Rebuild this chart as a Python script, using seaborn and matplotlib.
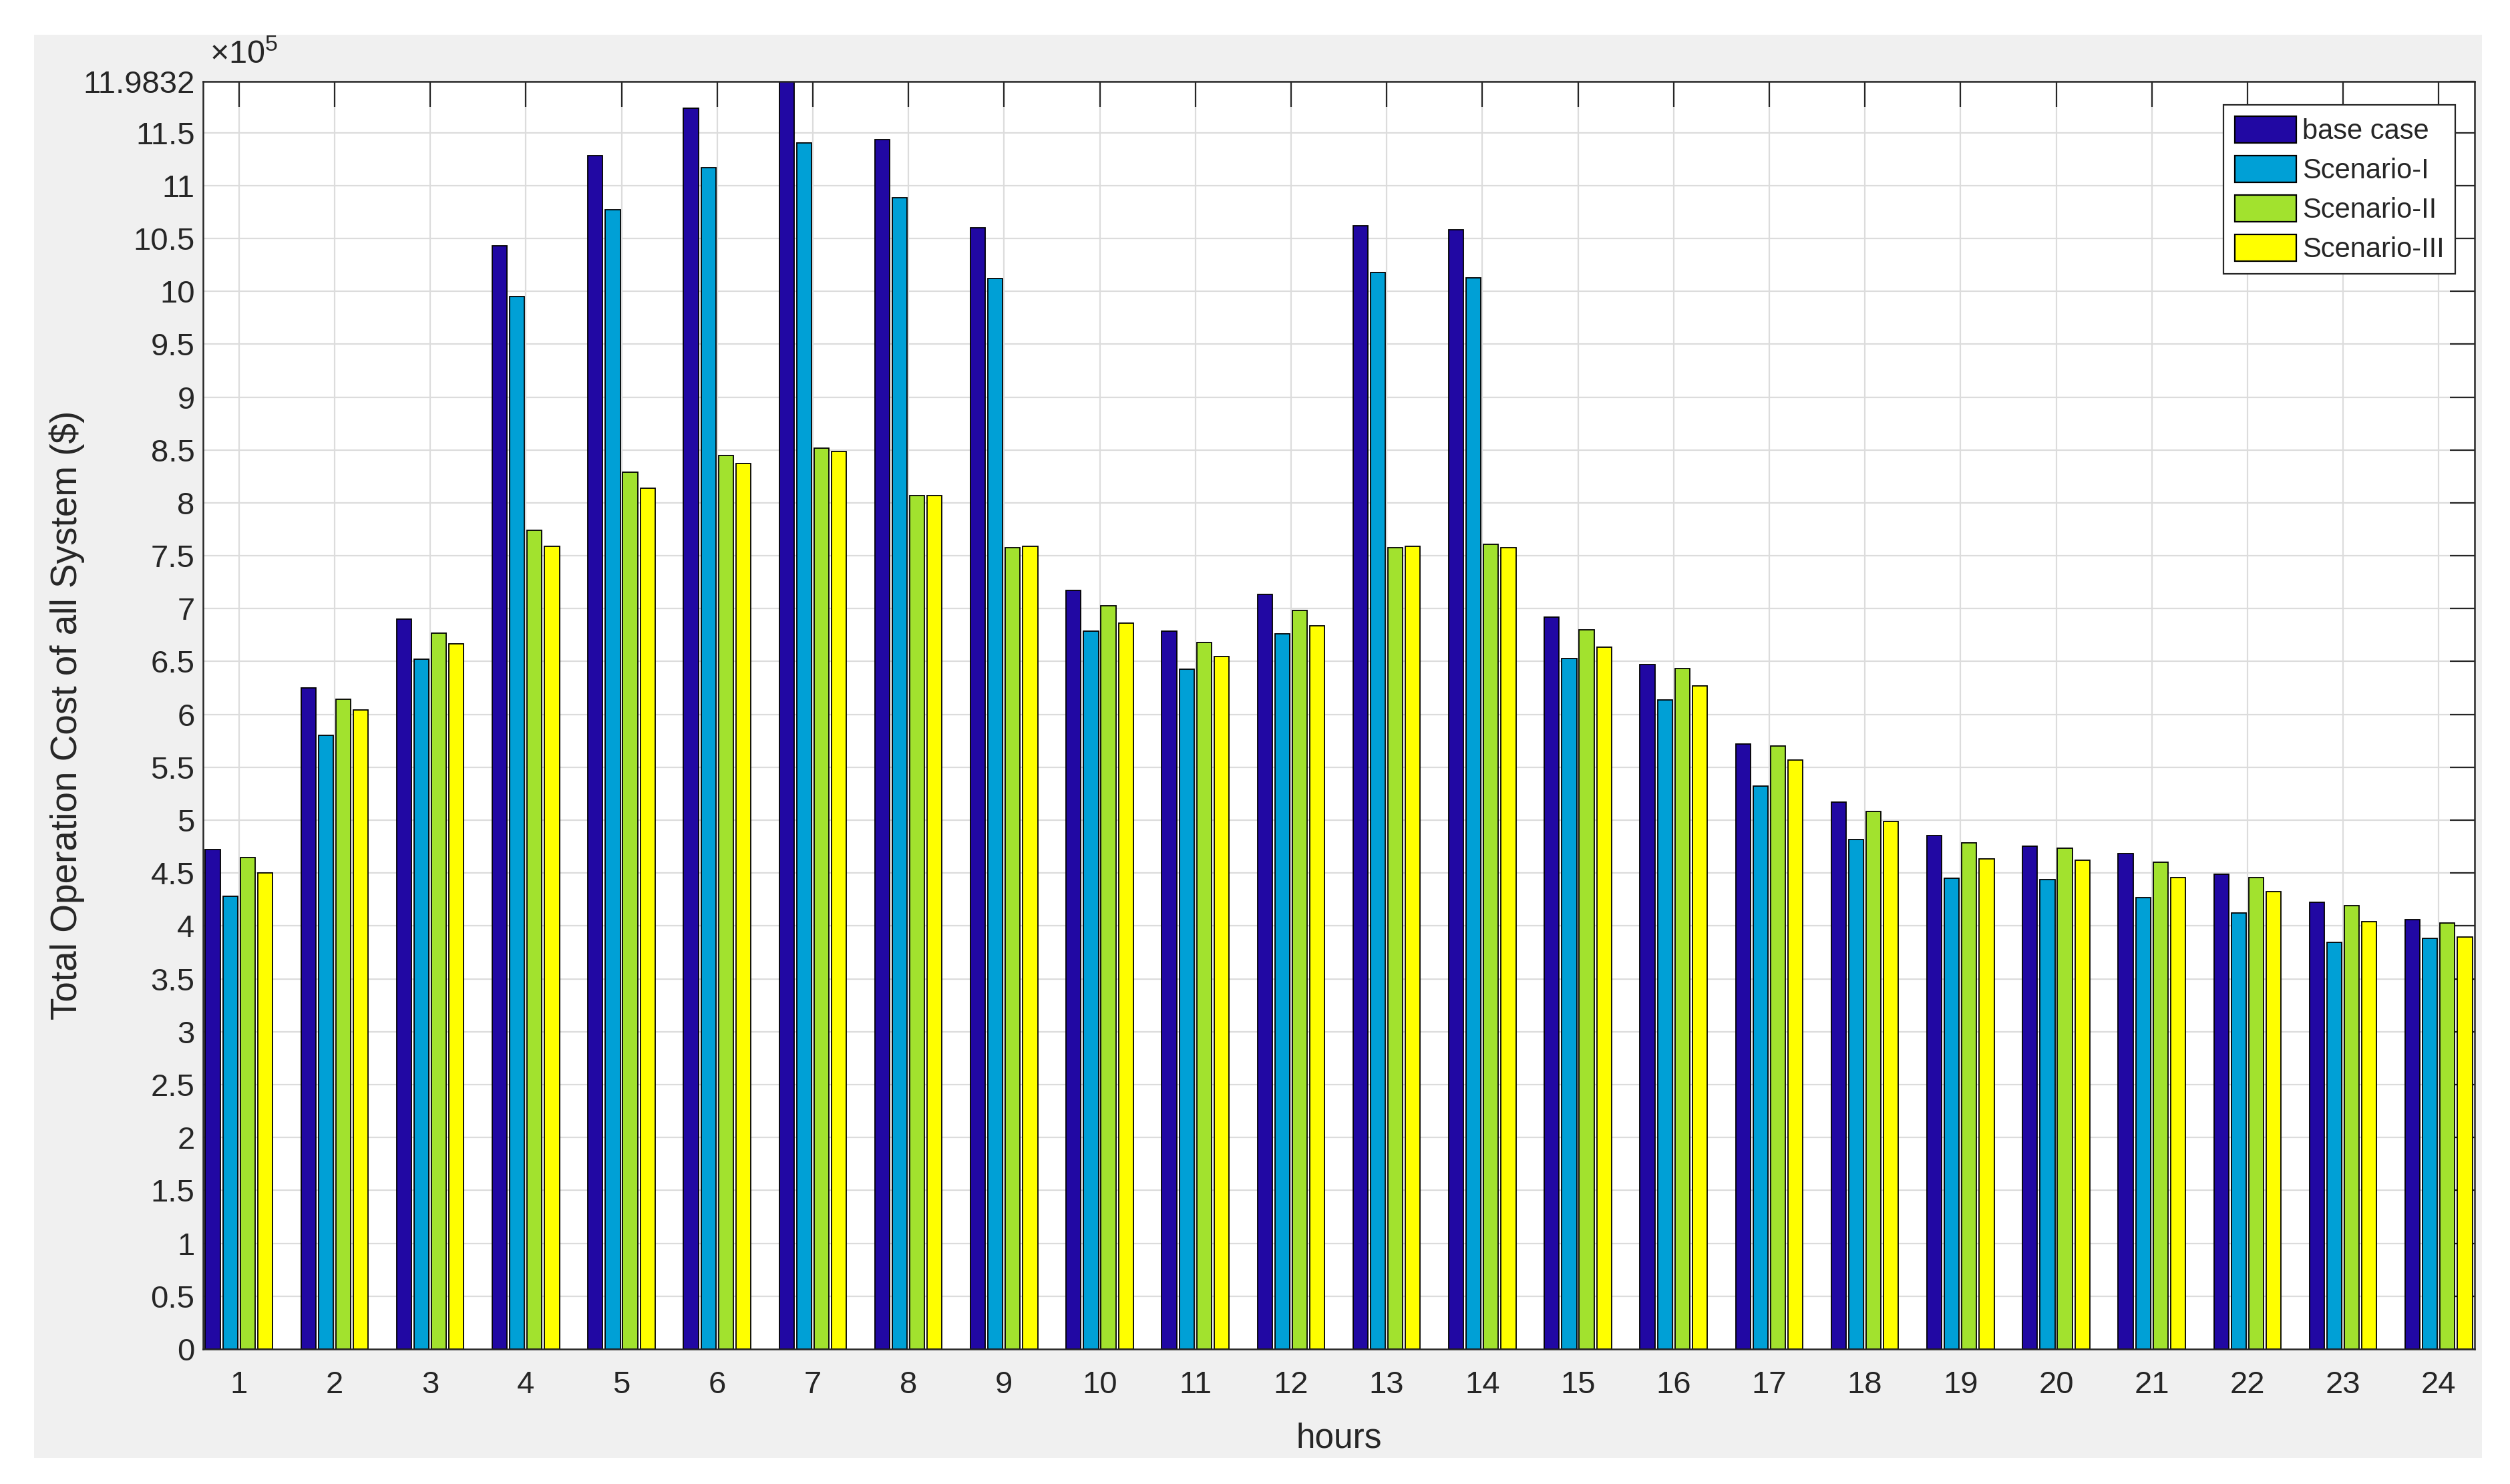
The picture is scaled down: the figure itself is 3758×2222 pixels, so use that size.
import numpy as np
import pandas as pd
import matplotlib
matplotlib.use("Agg")
import matplotlib.pyplot as plt
import seaborn as sns
from matplotlib.patches import Rectangle

# ---------------- data (values in units of 1e5 $) ----------------
hours = [str(h) for h in range(1, 25)]
scenarios = ["base case", "Scenario-I", "Scenario-II", "Scenario-III"]
base_case = [4.72, 6.25, 6.90, 10.43, 11.28, 11.73, 11.9832, 11.435, 10.60, 7.17,
             6.785, 7.135, 10.62, 10.58, 6.92, 6.47, 5.72, 5.17, 4.855, 4.755,
             4.685, 4.49, 4.225, 4.06]
scenario_1 = [4.28, 5.80, 6.52, 9.95, 10.77, 11.17, 11.40, 10.885, 10.12, 6.785,
              6.43, 6.765, 10.18, 10.13, 6.53, 6.135, 5.32, 4.82, 4.45, 4.44,
              4.27, 4.125, 3.845, 3.88]
scenario_2 = [4.65, 6.14, 6.77, 7.74, 8.29, 8.45, 8.52, 8.07, 7.575, 7.03,
              6.68, 6.985, 7.575, 7.605, 6.80, 6.435, 5.70, 5.085, 4.785, 4.735,
              4.605, 4.455, 4.19, 4.025]
scenario_3 = [4.50, 6.04, 6.67, 7.59, 8.14, 8.37, 8.485, 8.07, 7.59, 6.865,
              6.55, 6.835, 7.59, 7.575, 6.635, 6.27, 5.57, 4.985, 4.635, 4.62,
              4.455, 4.325, 4.04, 3.895]
colors = ["#2108a3", "#00a0d6", "#a2e22e", "#ffff00"]
y_ticks = [i * 0.5 for i in range(24)] + [11.9832]
y_max = 11.9832

series = [base_case, scenario_1, scenario_2, scenario_3]
df = pd.DataFrame({
    "hour": hours * 4,
    "scenario": [s for s in scenarios for _ in hours],
    "cost": [v for ser in series for v in ser],
})

# ---------------- style ----------------
sns.set_theme(style="white")
plt.rcParams["font.family"] = ["Liberation Sans Narrow", "Liberation Sans", "DejaVu Sans"]
plt.rcParams["text.color"] = "#262626"
plt.rcParams["axes.labelcolor"] = "#262626"

fig = plt.figure(figsize=(37.58, 22.22), dpi=100)
fig.patch.set_facecolor("white")
fig.patches.append(Rectangle((0.01357, 0.01755), 0.97523, 0.95905,
                             transform=fig.transFigure, facecolor="#f0f0f0",
                             edgecolor="none", zorder=-10))
ax = fig.add_axes([0.0809, 0.0909, 0.9050, 0.8542])
ax.set_zorder(5)
ax.set_facecolor("white")

sns.barplot(data=df, x="hour", y="cost", hue="scenario", order=hours,
            hue_order=scenarios, palette=colors, width=0.73, gap=0.15,
            edgecolor="black", linewidth=1.3, saturation=1, errorbar=None,
            ax=ax)

ax.set_xlim(-0.375, 23.375)
ax.set_ylim(0, y_max)
ax.set_yticks(y_ticks)
ax.set_yticklabels(["%g" % t for t in y_ticks])

ax.set_axisbelow(True)
ax.grid(True, which="major", color="#dcdcdc", linewidth=1.6)
ax.tick_params(axis="both", which="major", direction="in", top=True, right=True,
               length=27, width=1.6, color="#262626", labelcolor="#262626",
               labelsize=34)
ax.tick_params(axis="y", pad=9)
ax.tick_params(axis="x", pad=23)
for sp in ax.spines.values():
    sp.set_visible(True)
    sp.set_color("#262626")
    sp.set_linewidth(1.8)

ax.set_xlabel("hours", fontsize=37, labelpad=24)
ax.set_ylabel("Total Operation Cost of all System ($)", fontsize=39.5,
              family=["Liberation Sans", "DejaVu Sans"])
ax.yaxis.set_label_coords(-0.052, 0.5)

ax.text(0.003, 1.009, r"$\mathregular{\times10^{5}}$", transform=ax.transAxes,
        ha="left", va="bottom", fontsize=35, color="#262626")

# legend
old = ax.get_legend()
handles = old.legend_handles
labels = [t.get_text() for t in old.get_texts()]
old.remove()
leg = ax.legend(handles, labels, loc="upper right", bbox_to_anchor=(0.9915, 0.9816),
                borderaxespad=0, fontsize=30, frameon=True, fancybox=False,
                framealpha=1, edgecolor="#262626", handlelength=2.2,
                handleheight=1.1, handletextpad=0.22, labelspacing=0.38,
                borderpad=0.4)
leg.get_frame().set_linewidth(1.6)
for p in leg.get_patches():
    p.set_edgecolor("black")
    p.set_linewidth(1.6)

fig.savefig("out.png", dpi=100)
